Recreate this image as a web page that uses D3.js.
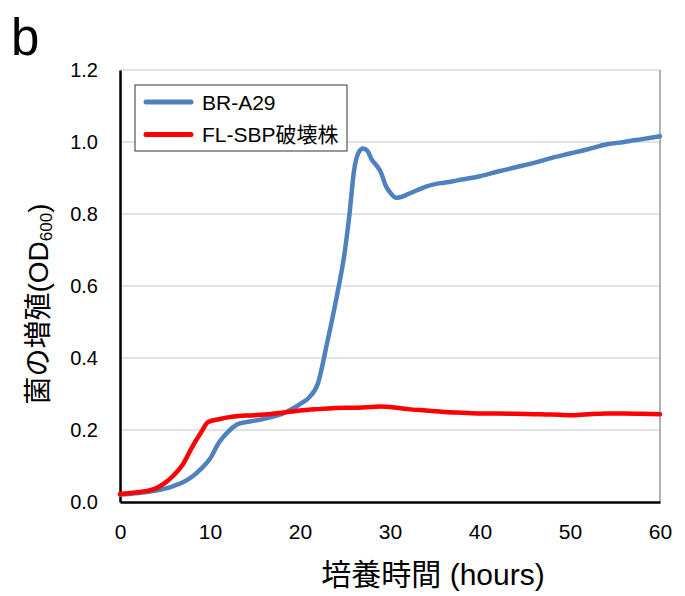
<!DOCTYPE html>
<html>
<head>
<meta charset="utf-8">
<script src="https://cdn.jsdelivr.net/npm/d3@7"></script>
<style>
  html, body { margin: 0; padding: 0; background: #fff; }
  svg { display: block; }
  text { font-family: "Liberation Sans", Arial, "Noto Sans CJK JP", sans-serif; fill: #000; }
</style>
</head>
<body>
<svg id="chart" width="685" height="596"></svg>
<script>
// Growth curves: OD600 over culture time (hours)
const timeBR = [0, 1, 2, 3, 4, 5, 6, 7, 8, 9, 10, 11, 12, 13, 14, 15, 16, 17, 18, 19, 20, 21, 22, 23, 24, 25, 25.5, 26, 26.5, 27, 27.5, 28, 28.5, 29, 29.5, 30, 30.7, 31, 32, 33, 34, 35, 36, 37, 38, 39, 40, 42, 44, 46, 48, 50, 52, 54, 56, 58, 60];
const odBR   = [0.02, 0.022, 0.025, 0.028, 0.032, 0.037, 0.045, 0.055, 0.07, 0.092, 0.12, 0.165, 0.195, 0.215, 0.222, 0.226, 0.231, 0.237, 0.245, 0.257, 0.272, 0.29, 0.33, 0.44, 0.56, 0.7, 0.8, 0.92, 0.97, 0.982, 0.975, 0.95, 0.935, 0.915, 0.88, 0.86, 0.845, 0.846, 0.855, 0.866, 0.876, 0.883, 0.887, 0.891, 0.896, 0.9, 0.905, 0.918, 0.93, 0.942, 0.956, 0.968, 0.98, 0.993, 1.0, 1.008, 1.016];

const timeFL = [0, 1, 2, 3, 4, 5, 6, 7, 8, 9, 9.8, 11, 12, 13, 14, 15, 16, 17, 18, 19, 20, 22, 24, 26, 28, 29, 30, 32, 34, 36, 38, 40, 42, 44, 46, 48, 50, 52, 54, 56, 58, 60];
const odFL   = [0.022, 0.024, 0.027, 0.031, 0.038, 0.053, 0.075, 0.105, 0.152, 0.193, 0.222, 0.23, 0.235, 0.238, 0.24, 0.241, 0.243, 0.245, 0.248, 0.251, 0.254, 0.258, 0.261, 0.262, 0.264, 0.265, 0.264, 0.258, 0.254, 0.25, 0.248, 0.246, 0.246, 0.245, 0.244, 0.243, 0.241, 0.244, 0.246, 0.246, 0.245, 0.244];

const seriesNames = ["BR-A29", "FL-SBP破壊株"];
const seriesColors = ["#4f81bd", "#ff0000"];
const xTicks = [0, 10, 20, 30, 40, 50, 60];
const yTicks = [0.0, 0.2, 0.4, 0.6, 0.8, 1.0, 1.2];

const svg = d3.select("#chart");
const m = { left: 120, right: 660, top: 70, bottom: 502 };

const x = d3.scaleLinear().domain([0, 60]).range([m.left, m.right]);
const y = d3.scaleLinear().domain([0, 1.2]).range([m.bottom, m.top]);

// Horizontal gridlines
svg.append("g")
  .selectAll("line")
  .data(yTicks.filter(v => v > 0))
  .join("line")
  .attr("x1", m.left).attr("x2", m.right)
  .attr("y1", d => y(d)).attr("y2", d => y(d))
  .attr("stroke", "#d9d9d9").attr("stroke-width", 1.5);

// Right border of plot area
svg.append("line")
  .attr("x1", m.right).attr("x2", m.right)
  .attr("y1", m.top).attr("y2", m.bottom)
  .attr("stroke", "#999").attr("stroke-width", 1.5);

// Axes
const xAxis = svg.append("g")
  .attr("transform", `translate(0,${m.bottom})`)
  .call(d3.axisBottom(x).tickValues(xTicks).tickSize(0).tickPadding(22).tickFormat(d3.format("d")));
xAxis.select(".domain").attr("stroke", "#000").attr("stroke-width", 2.5);
xAxis.selectAll("text").style("font-size", "21px");

const yAxis = svg.append("g")
  .attr("transform", `translate(${m.left},0)`)
  .call(d3.axisLeft(y).tickValues(yTicks).tickSize(0).tickPadding(22).tickFormat(d3.format(".1f")));
yAxis.select(".domain").attr("stroke", "#000").attr("stroke-width", 2.5);
yAxis.selectAll("text").style("font-size", "20px");

// Series lines
const line = d3.line()
  .x(d => x(d[0]))
  .y(d => y(d[1]))
  .curve(d3.curveMonotoneX);

const series = [
  d3.zip(timeBR, odBR),
  d3.zip(timeFL, odFL)
];

svg.append("g")
  .selectAll("path")
  .data(series)
  .join("path")
  .attr("d", line)
  .attr("fill", "none")
  .attr("stroke", (d, i) => seriesColors[i])
  .attr("stroke-width", 4.5)
  .attr("stroke-linejoin", "round")
  .attr("stroke-linecap", "round");

// Legend
const lg = svg.append("g").attr("transform", "translate(135,85)");
lg.append("rect")
  .attr("width", 212).attr("height", 66)
  .attr("fill", "#fff").attr("stroke", "#333").attr("stroke-width", 1);
seriesNames.forEach((name, i) => {
  const cy = 17 + i * 32.5;
  lg.append("line")
    .attr("x1", 11).attr("x2", 56).attr("y1", cy).attr("y2", cy)
    .attr("stroke", seriesColors[i]).attr("stroke-width", 5).attr("stroke-linecap", "round");
  lg.append("text")
    .attr("x", 67).attr("y", cy + 7.5)
    .style("font-size", "21px")
    .text(name);
});

// Panel letter
svg.append("text")
  .attr("x", 11).attr("y", 55)
  .style("font-size", "51px")
  .text("b");

// X axis title
svg.append("text")
  .attr("x", 433).attr("y", 585)
  .attr("text-anchor", "middle")
  .style("font-size", "30px")
  .text("培養時間 (hours)");

// Y axis title with subscript
const yt = svg.append("text")
  .attr("transform", "translate(48,304) rotate(-90)")
  .attr("text-anchor", "middle")
  .style("font-size", "28px");
yt.append("tspan").text("菌の増殖(OD");
yt.append("tspan").attr("dy", 4).style("font-size", "17px").text("600");
yt.append("tspan").attr("dy", -4).text(")");
</script>
</body>
</html>
